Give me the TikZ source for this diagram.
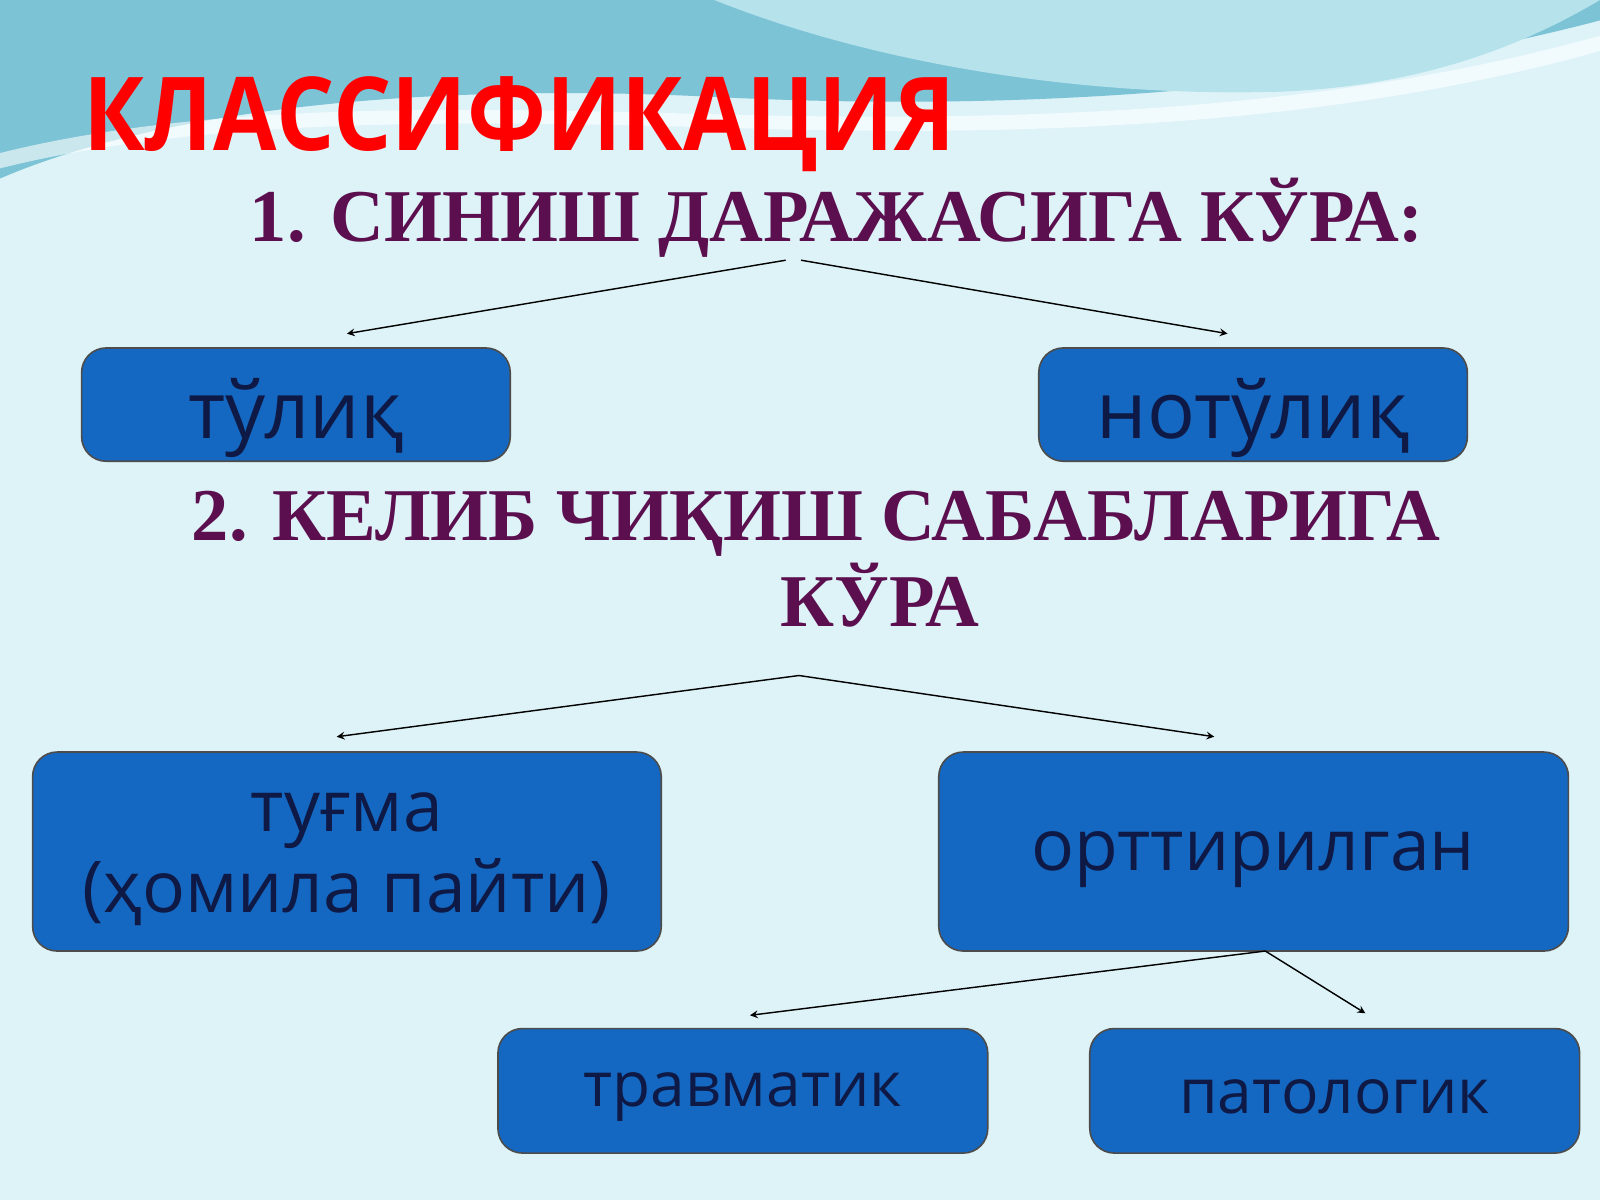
\documentclass[tikz,border=0pt]{standalone}
\usepackage{fontspec}
\setmainfont{Open Sans}
\newfontfamily\headfont{Liberation Serif}
\begin{document}
\begin{tikzpicture}[x=0.5pt,y=-0.5pt,
  box/.style={draw=black!70,fill=boxblue,rounded corners=12pt,line width=0.8pt},
  boxtext/.style={text=navy,font=\fontsize{39}{46}\selectfont},
  head/.style={text=plum,font=\headfont\bfseries\fontsize{36.5}{44}\selectfont,align=center},
  arr/.style={->,>=stealth,line width=0.7pt,black}]
\definecolor{bg}{HTML}{DDF3F8}
\definecolor{wave}{HTML}{7CC3D6}
\definecolor{wave2}{HTML}{B6E2EC}
\definecolor{boxblue}{HTML}{1468C2}
\definecolor{navy}{HTML}{0E1A45}
\definecolor{plum}{HTML}{5C0F4E}
\useasboundingbox (0,0) rectangle (1568,1176);
\fill[bg] (0,0) rectangle (1568,1176);
% waves
\fill[wave] (0,0) -- (1568,0) -- (1568,20) .. controls (1300,90) and (1000,110) .. (700,95) .. controls (400,80) and (150,110) .. (0,175) -- cycle;
\fill[wave2] (700,0) .. controls (850,60) and (1050,95) .. (1250,90) .. controls (1400,85) and (1500,40) .. (1568,0) -- cycle;
\fill[white,opacity=0.6] (0,150) .. controls (200,100) and (450,105) .. (700,112) .. controls (1000,120) and (1300,110) .. (1568,35) -- (1568,50) .. controls (1300,125) and (1000,135) .. (700,125) .. controls (450,118) and (200,115) .. (0,165) -- cycle;
% title
\node[anchor=west,text=red,font=\bfseries\fontsize{50}{56}\selectfont,xscale=0.9] (title) at (75,122) {КЛАССИФИКАЦИЯ};
\node[head] (h1) at (820,213) {1. СИНИШ ДАРАЖАСИГА КЎРА:};
\node[head] (h2) at (800,548) {2. КЕЛИБ ЧИҚИШ САБАБЛАРИГА\\[-2pt]\hspace*{62pt}КЎРА};
% boxes
\draw[box] (80,341) rectangle (500,452);
\node[boxtext] (b1) at (290,410) {тўлиқ};
\draw[box] (1018,341) rectangle (1438,452);
\node[boxtext] (b2) at (1228,410) {нотўлиқ};
\draw[box] (32,737) rectangle (648,932);
\node[boxtext,font=\fontsize{35}{40}\selectfont,align=center] (b3) at (340,842) {туғма\\(ҳомила пайти)};
\draw[box] (920,737) rectangle (1537,932);
\node[boxtext,font=\fontsize{35}{40}\selectfont] (b4) at (1228,842) {орттирилган};
\draw[box] (488,1008) rectangle (968,1130);
\node[boxtext,font=\fontsize{30.5}{34}\selectfont] (b5) at (728,1075) {травматик};
\draw[box] (1068,1008) rectangle (1548,1130);
\node[boxtext,font=\fontsize{30.5}{34}\selectfont] (b6) at (1308,1075) {патологик};
% connectors
\coordinate (s1a) at (770,255); \coordinate (s1b) at (785,255);
\coordinate (t1) at (340,327); \coordinate (t2) at (1203,327);
\draw[arr] (s1a) -- (t1);
\draw[arr] (s1b) -- (t2);
\coordinate (s2) at (783,662);
\coordinate (t3) at (330,722); \coordinate (t4) at (1190,722);
\draw[arr] (s2) -- (t3);
\draw[arr] (s2) -- (t4);
\coordinate (s3) at (1240,932);
\coordinate (t5) at (735,995); \coordinate (t6) at (1338,993);
\draw[arr] (s3) -- (t5);
\draw[arr] (s3) -- (t6);
\end{tikzpicture}
\end{document}
